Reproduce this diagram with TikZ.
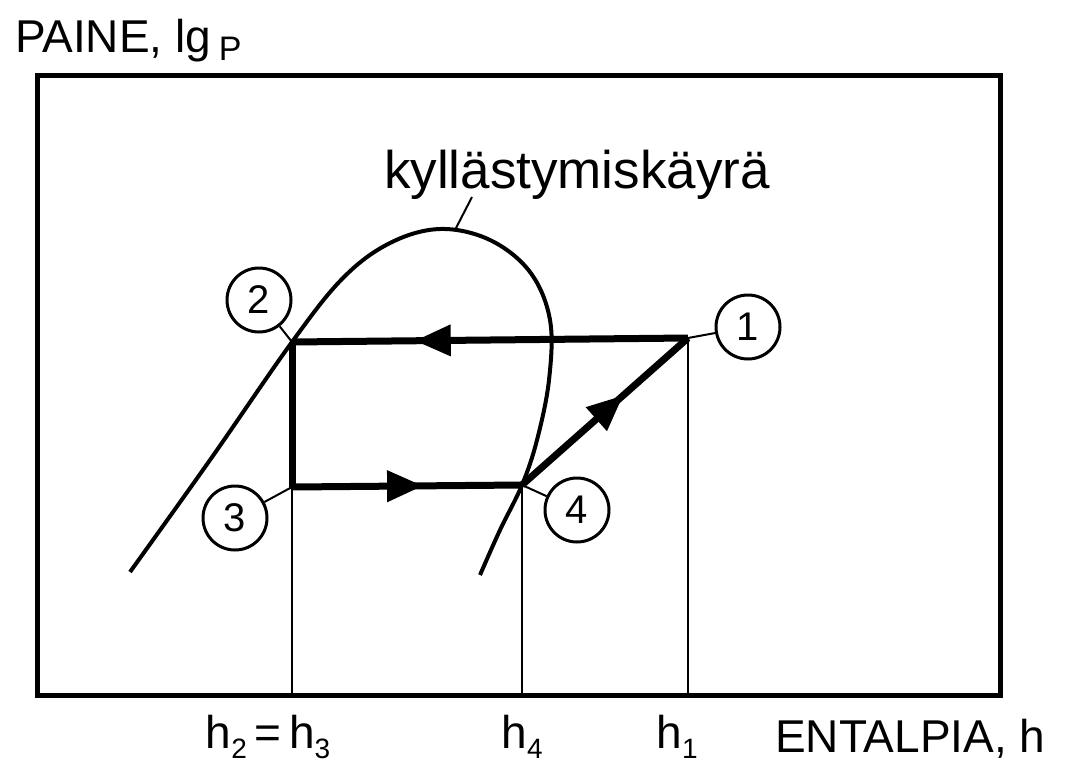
\documentclass[tikz,border=0pt]{standalone}
\usepackage{fontspec}
\setmainfont{Liberation Sans}
\usetikzlibrary{arrows.meta,decorations.markings}

\newcommand{\hidx}[1]{h\raisebox{-10pt}{\fontsize{28}{30}\selectfont #1}}

\begin{document}
\begin{tikzpicture}[
  x=1pt, y=-1pt,
  frame/.style={draw=black, line width=5pt},
  cyc/.style={draw=black, line width=7pt},
  thinline/.style={draw=black, line width=2.2pt},
  satcurve/.style={draw=black, line width=4pt},
  leader/.style={draw=black, line width=2pt},
  num/.style={circle, draw=black, line width=3pt, fill=white, minimum size=64pt,
              inner sep=0pt, font=\fontsize{40}{42}\selectfont},
  lbl/.style={font=\fontsize{46}{48}\selectfont, inner sep=0pt},
  midarrow/.style={postaction={decorate, decoration={markings,
      mark=at position #1 with {\arrow{Triangle[length=36pt,width=30pt]}}}}}
]
\useasboundingbox (0,0) rectangle (1065,771);

% cycle states
\coordinate (p1) at (688,338);
\coordinate (p2) at (292,342);
\coordinate (p3) at (292,487);
\coordinate (p4) at (522,485);
\coordinate (bl) at (37,695);

% frame
\draw[frame] (37,75) rectangle (1000,695);

% saturation curve
\draw[satcurve] plot[smooth, tension=0.6] coordinates {
  (130,572) (210,460) (292,342) (343,278) (390,243) (440,229) (490,240)
  (530,272) (550,320) (549,380) (537,440) (522,485) (500,530) (480,575)};
\coordinate (top) at (455,230);
\node[lbl, font=\fontsize{53}{55}\selectfont, anchor=base] (sat) at (577,188) {kyllästymiskäyrä};
\draw[leader] (top) -- (472,197);

% enthalpy levels
\foreach \p in {p2, p4, p1}
  \draw[thinline] (\p) -- (\p |- bl);

% the cycle
\draw[cyc, midarrow=0.69] (p1) -- (p2);
\draw[cyc] (p2) -- (p3);
\draw[cyc, midarrow=0.57] (p3) -- (p4);
\draw[cyc, midarrow=0.61] (p4) -- (p1);

% state numbers
\node[num] (c1) at (748,327) {1};
\node[num] (c2) at (259,300) {2};
\node[num] (c3) at (235,518) {3};
\node[num] (c4) at (577,510) {4};
\foreach \c/\p in {c1/p1, c2/p2, c3/p3, c4/p4}
  \draw[leader] (\c) -- (\p);

% axis texts
\node[lbl, anchor=base west] (ylab) at (15,52)
  {PAINE, lg\,\raisebox{-9pt}{\fontsize{34}{36}\selectfont P}};
\node[lbl, anchor=base] (hh) at (268,748) {\hidx{2}\,=\,\hidx{3}};
\node[lbl, anchor=base] (hfour) at (522,748) {\hidx{4}};
\node[lbl, anchor=base] (hone) at (677,748) {\hidx{1}};
\node[lbl, anchor=base west] (xlab) at (775,752) {ENTALPIA, h};

\end{tikzpicture}
\end{document}
